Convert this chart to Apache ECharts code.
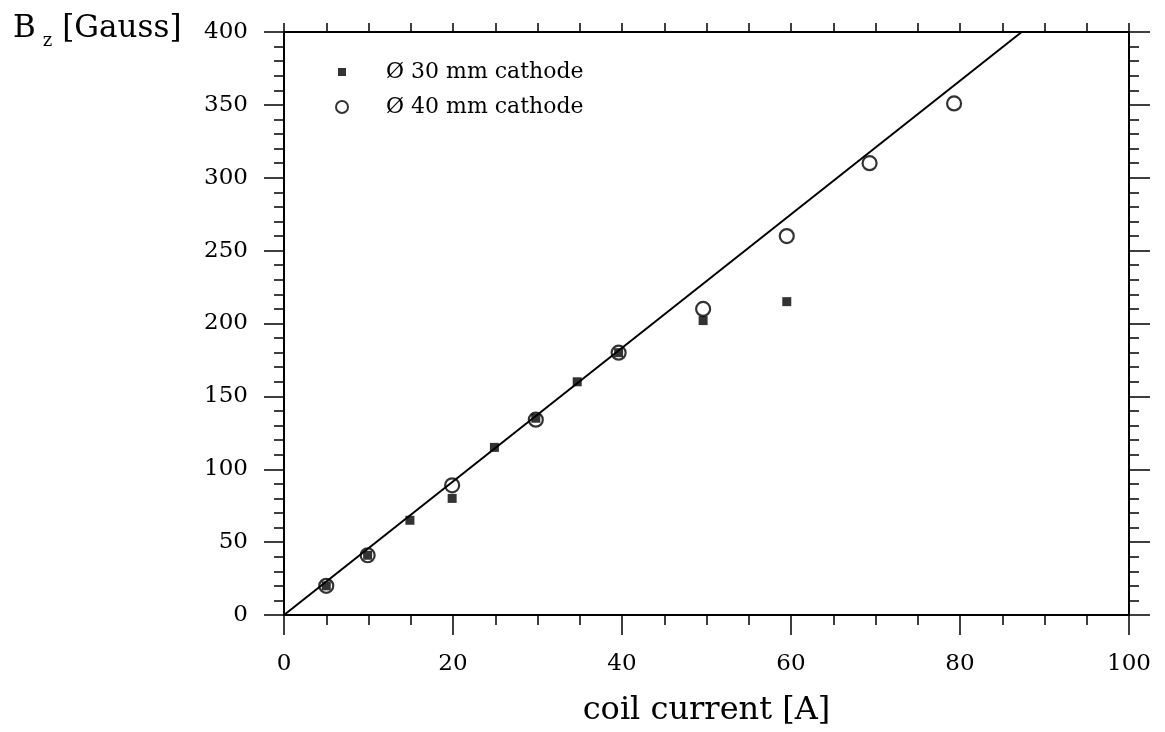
<!DOCTYPE html>
<html lang="en">
<head>
    <meta charset="UTF-8">
    <title>Bz vs coil current</title>
    <script type="text/javascript" src="https://cdn.jsdelivr.net/npm/echarts@6/dist/echarts.min.js"></script>
    <style>
        html, body { margin: 0; padding: 0; background: #fff; }
    </style>
</head>
<body>
<div id="chart" style="width: 1165px;height:732px;"></div>
<script>

    // 30 mm cathode (filled squares)
    var cur30 = [5.0, 9.9, 14.9, 19.9, 24.9, 29.8, 34.7, 39.6, 49.6, 59.5];
    var bz30 = [20, 41, 65, 80, 115, 135, 160, 180, 202, 215];
    // 40 mm cathode (open circles)
    var cur40 = [5.0, 9.9, 19.9, 29.8, 39.6, 49.6, 59.5, 69.3, 79.3];
    var bz40 = [20, 41, 89, 134, 180, 210, 260, 310, 351];
    // fitted line
    var fitCur = [0, 87.3];
    var fitBz = [0, 400];

    function pairs(xs, ys) {
        var out = [];
        for (var i = 0; i < xs.length; i++) {
            out.push([xs[i], ys[i]]);
        }
        return out;
    }

    var font = 'DejaVu Serif';
    var black = '#000';

    // axis helper: position, major tick length, minor tick length, label margin (0 = no labels)
    function axis(pos, min, max, step, minorSplit, majorLen, minorLen, labels) {
        return {
            type: 'value',
            position: pos,
            min: min, max: max, interval: step,
            axisLine: {onZero: false, lineStyle: {color: black, width: 2}},
            axisTick: {length: majorLen, lineStyle: {color: black, width: 1.5}},
            minorTick: {show: true, splitNumber: minorSplit, length: minorLen, lineStyle: {color: black, width: 1.5}},
            axisLabel: labels ? {fontFamily: font, fontSize: 23, color: black, margin: labels} : {show: false},
            splitLine: {show: false}
        };
    }

    var xBottom = axis('bottom', 0, 100, 20, 4, 20, 10, 38);
    xBottom.name = 'coil current [A]';
    xBottom.nameLocation = 'middle';
    xBottom.nameGap = 80;
    xBottom.nameTextStyle = {fontFamily: font, fontSize: 32, color: black};

    var option = {
        animation: false,
        backgroundColor: '#fff',
        textStyle: {fontFamily: font, color: black},
        title: {
            text: 'B{z|z}[Gauss]',
            left: 8,
            top: 3,
            textStyle: {
                fontFamily: font,
                fontWeight: 'normal',
                fontSize: 31,
                color: black,
                rich: {
                    z: {fontFamily: font, fontSize: 18, color: black, padding: [24, 10, 0, 7]}
                }
            }
        },
        legend: {
            orient: 'vertical',
            left: 335,
            top: 61,
            padding: 0,
            itemGap: 13,
            itemWidth: 12,
            itemHeight: 12,
            textStyle: {fontFamily: font, fontSize: 22, lineHeight: 22, color: black, padding: [0, 0, 0, 33]},
            data: [
                {name: 'Ø 30 mm cathode', icon: 'path://M0,0M12,12M2,2h8v8h-8z'},
                {name: 'Ø 40 mm cathode', icon: 'circle',
                    itemStyle: {color: '#fff', borderColor: black, borderWidth: 2}}
            ]
        },
        grid: {left: 284, right: 36, top: 32, bottom: 113},
        xAxis: [
            xBottom,
            axis('top', 0, 100, 20, 4, 9, 9, 0)
        ],
        yAxis: [
            axis('left', 0, 400, 50, 5, 20, 10, 36),
            axis('right', 0, 400, 50, 5, 21, 10, 0)
        ],
        series: [{
            name: 'fit',
            type: 'line',
            data: pairs(fitCur, fitBz),
            showSymbol: false,
            lineStyle: {color: black, width: 2},
            z: 1
        }, {
            name: 'Ø 30 mm cathode',
            type: 'scatter',
            data: pairs(cur30, bz30),
            symbol: 'rect',
            symbolSize: 9,
            itemStyle: {color: black},
            z: 2
        }, {
            name: 'Ø 40 mm cathode',
            type: 'scatter',
            data: pairs(cur40, bz40),
            symbol: 'circle',
            symbolSize: 14,
            itemStyle: {color: 'rgba(0,0,0,0)', borderColor: black, borderWidth: 2.2},
            z: 3
        }, {
            // keeps the top and right frame axes alive
            name: 'frame',
            type: 'scatter',
            xAxisIndex: 1,
            yAxisIndex: 1,
            data: [],
            silent: true
        }]
    };

    var myChart = echarts.init(document.getElementById('chart'));
    myChart.setOption(option);

</script>
</body>
</html>
